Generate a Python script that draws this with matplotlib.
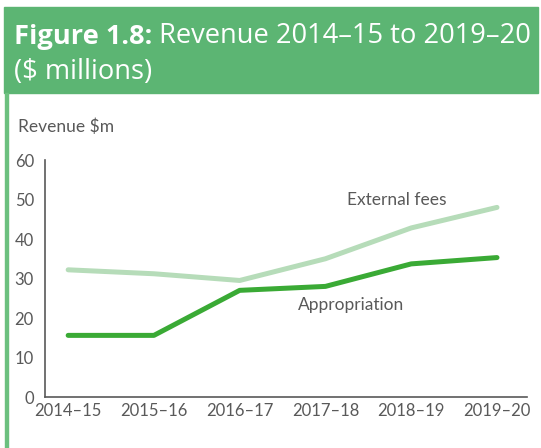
"""Figure 1.8: Revenue 2014-15 to 2019-20 line chart."""

import matplotlib
matplotlib.use("Agg")
import matplotlib.pyplot as plt
from matplotlib.patches import Rectangle

years = ["2014\u201315", "2015\u201316", "2016\u201317", "2017\u201318", "2018\u201319", "2019\u201320"]
external_fees = [32.2, 31.2, 29.5, 35.0, 42.8, 48.0]
appropriation = [15.6, 15.6, 27.0, 28.0, 33.7, 35.3]
y_ticks = [0, 10, 20, 30, 40, 50, 60]

W, H = 541, 448
HEADER_GREEN = "#5cb573"
BORDER_GREEN = "#6cc07f"
DARK_LINE = "#3aaa35"
LIGHT_LINE = "#b6dcb9"
TEXT_GREY = "#595959"
TITLE_FONT = ["Open Sans", "DejaVu Sans"]
AXIS_FONT = ["Lato", "DejaVu Sans"]
TITLE_SIZE = 19.6

fig = plt.figure(figsize=(W / 100, H / 100), dpi=100)


def px(x, y, w, h):
    # pixel box (top-left origin) -> figure fraction rect
    return [x / W, 1 - (y + h) / H, w / W, h / H]


# header band and left border
fig.patches.append(Rectangle((4 / W, 1 - 93 / H), 534 / W, 86 / H,
                             transform=fig.transFigure, color=HEADER_GREEN, zorder=0))
fig.patches.append(Rectangle((5 / W, 0), 3 / W, 1 - 93 / H,
                             transform=fig.transFigure, color=BORDER_GREEN, zorder=0))

bold_part = fig.text(14 / W, 1 - 44 / H, "Figure 1.8:", family=TITLE_FONT,
                     fontweight="bold", fontsize=TITLE_SIZE, color="white",
                     va="baseline", ha="left")
fig.canvas.draw()
fig.add_artist(plt.Annotation(" Revenue 2014\u201315 to 2019\u201320", xy=(1, 0),
                              xycoords=bold_part, family=TITLE_FONT, fontsize=TITLE_SIZE,
                              color="white", va="bottom", ha="left"))
fig.text(14 / W, 1 - 79 / H, "($ millions)", family=TITLE_FONT,
         fontsize=TITLE_SIZE, color="white", va="baseline", ha="left")

fig.text(18 / W, 1 - 127 / H, "Revenue $m", family=AXIS_FONT, fontsize=12.5,
         color=TEXT_GREY, va="center", ha="left")

ax = fig.add_axes(px(45, 160, 482, 237))
x = list(range(len(years)))
ax.plot(x, external_fees, color=LIGHT_LINE, linewidth=3.6, solid_capstyle="round")
ax.plot(x, appropriation, color=DARK_LINE, linewidth=3.6, solid_capstyle="round")

ax.set_xlim(-0.27, len(years) - 1 + 0.35)
ax.set_ylim(0, 60)
ax.set_yticks(y_ticks)
ax.set_xticks(x)
ax.set_xticklabels(years)
for spine in ["top", "right"]:
    ax.spines[spine].set_visible(False)
for spine in ["left", "bottom"]:
    ax.spines[spine].set_color("#595959")
    ax.spines[spine].set_linewidth(1.2)
ax.tick_params(length=0, labelsize=12, labelcolor=TEXT_GREY, pad=4)
for label in ax.get_xticklabels() + ax.get_yticklabels():
    label.set_family(AXIS_FONT)
ax.tick_params(axis="y", pad=8)

ax.text(3.83, 50, "External fees", family=AXIS_FONT, fontsize=12.5,
        color=TEXT_GREY, ha="center", va="center")
ax.text(3.3, 23.2, "Appropriation", family=AXIS_FONT, fontsize=12.5,
        color=TEXT_GREY, ha="center", va="center")

fig.savefig("out.png", dpi=100)
